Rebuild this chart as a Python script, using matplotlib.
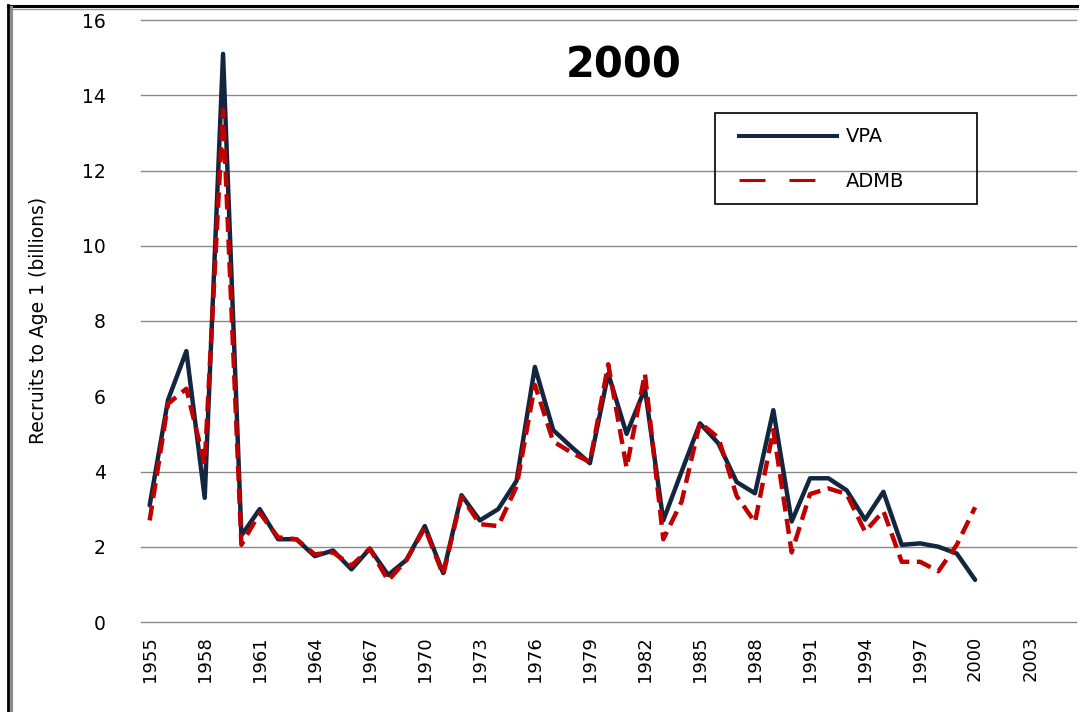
import matplotlib
matplotlib.use("Agg")
import matplotlib.pyplot as plt
from matplotlib.lines import Line2D
from matplotlib.patches import Rectangle
import numpy as np

# recruitment estimates, billions of age-1 fish
years = np.arange(1955, 2001)
vpa = [3.1, 5.9, 7.2, 3.3, 15.1, 2.3, 3.0, 2.2, 2.2, 1.75,
       1.9, 1.4, 1.95, 1.25, 1.65, 2.55, 1.3, 3.37, 2.7, 3.0,
       3.75, 6.78, 5.1, 4.65, 4.22, 6.6, 5.0, 6.2, 2.7, 4.0,
       5.28, 4.75, 3.72, 3.42, 5.63, 2.67, 3.82, 3.82, 3.5, 2.72,
       3.46, 2.05, 2.09, 2.0, 1.82, 1.12]
admb = [2.7, 5.8, 6.2, 4.2, 13.6, 2.05, 2.9, 2.25, 2.2, 1.8,
        1.85, 1.5, 1.95, 1.1, 1.65, 2.5, 1.25, 3.33, 2.6, 2.55,
        3.6, 6.3, 4.8, 4.5, 4.25, 6.85, 4.1, 6.6, 2.2, 3.2,
        5.3, 4.9, 3.35, 2.65, 5.1, 1.85, 3.4, 3.55, 3.4, 2.4,
        2.95, 1.6, 1.6, 1.35, 2.05, 3.05]
year_ticks = np.arange(1955, 2004, 3)
y_ticks = [0, 2, 4, 6, 8, 10, 12, 14, 16]
title = "2000"
series_names = ["VPA", "ADMB"]

NAVY = "#12263f"
RED = "#c00000"
GRID = "#8a8a8a"

W, H = 1079, 712
fig = plt.figure(figsize=(W / 100, H / 100), dpi=100)
ax = fig.add_axes([140.5 / W, 1 - 622 / H, (1076 - 140.5) / W, (622 - 20) / H])

ax.plot(years, vpa, color=NAVY, lw=3.2, solid_capstyle="round",
        solid_joinstyle="round", zorder=3)
ax.plot(years, admb, color=RED, lw=3.2, dashes=(3.4, 1.7),
        dash_capstyle="butt", zorder=4)

ax.set_xlim(1954.5, 2005.5)
ax.set_ylim(0, 16)
ax.set_xticks(year_ticks)
ax.set_xticklabels([str(y) for y in year_ticks], rotation=90, fontsize=13)
ax.set_yticks(y_ticks)
ax.set_yticklabels([str(v) for v in y_ticks], fontsize=13.5)
ax.tick_params(axis="both", length=0)
ax.tick_params(axis="x", pad=10)
ax.tick_params(axis="y", pad=25)
for s in ax.spines.values():
    s.set_visible(False)

ax.yaxis.grid(True, color=GRID, lw=1.0)
ax.set_axisbelow(True)
for gl in ax.get_ygridlines():
    gl.set_clip_on(False)
# the reference has no gridline at 6
ax.get_ygridlines()[3].set_visible(False)

fig.text(39 / W, 1 - 320 / H, "Recruits to Age 1 (billions)", rotation=90,
         ha="center", va="center", fontsize=13.5)

ax.text(0.517, 0.925, title, transform=ax.transAxes, ha="center",
        va="center", fontsize=30, fontweight="bold")

# legend box drawn separately so it can stay transparent over the grid
ax.add_patch(Rectangle((0.614, 0.694), 0.280, 0.151, transform=ax.transAxes,
                       fill=False, edgecolor="black", lw=1.2, zorder=5))
handles = [
    Line2D([], [], color=NAVY, lw=2.9),
    Line2D([], [], color=RED, lw=2.2, dashes=(8.5, 7.85), dash_capstyle="butt"),
]
ax.legend(handles, series_names, loc="center left",
          bbox_to_anchor=(0.640, 0.769), frameon=False, fontsize=14,
          borderpad=0, borderaxespad=0, handlelength=5.05,
          handletextpad=0.45, labelspacing=1.3)

# outer chart frame (top and left edges only visible in the reference)
fig.add_artist(Line2D([8 / W, 1], [1 - 6 / H, 1 - 6 / H], color="black", lw=2.2))
fig.add_artist(Line2D([8 / W, 1], [1 - 8.5 / H, 1 - 8.5 / H], color="#9a9a9a", lw=1.0))
fig.add_artist(Line2D([8 / W, 8 / W], [0, 1 - 5 / H], color="black", lw=2.0))
fig.add_artist(Line2D([11 / W, 11 / W], [0, 1 - 7 / H], color="#8c8c8c", lw=2.2))

fig.savefig("out.png", dpi=100)
plt.close(fig)
